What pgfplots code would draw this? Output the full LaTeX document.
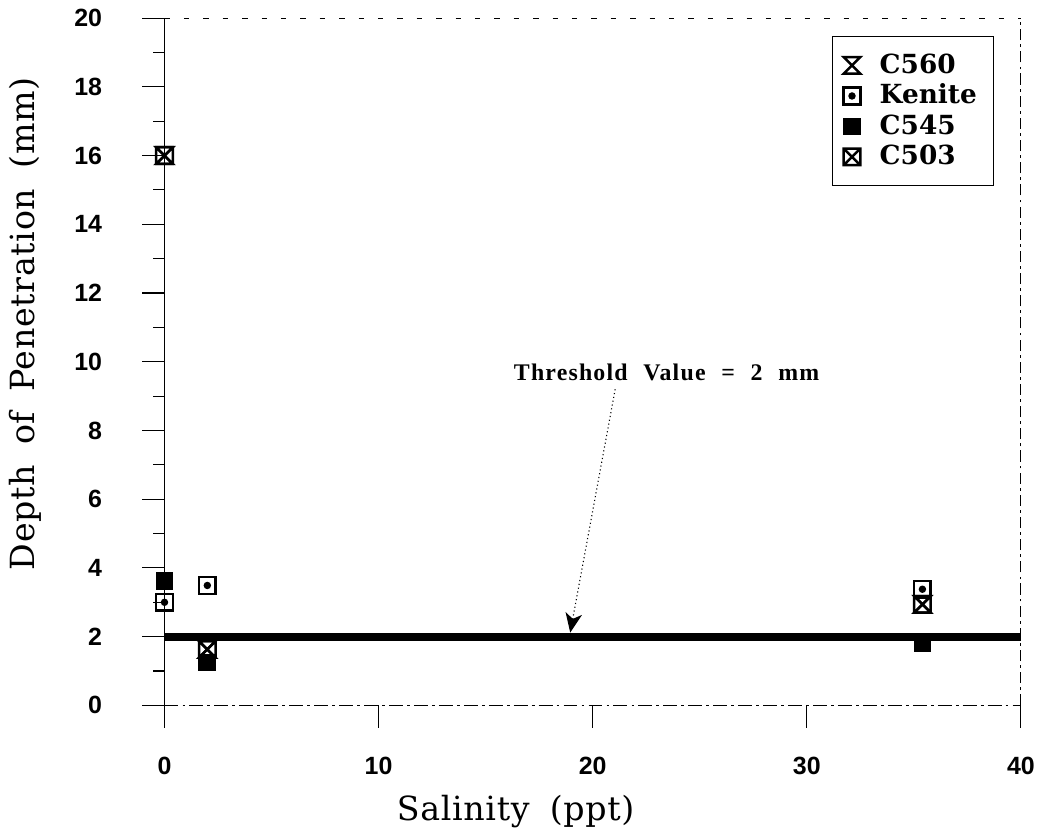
\documentclass[border=0pt]{standalone}
\usepackage{fontspec}
\setmainfont{DejaVu Serif}
\newfontfamily\labfont[LetterSpace=2,WordSpace=1.8]{DejaVu Serif}
\newfontfamily\notefont[LetterSpace=5,WordSpace=2.2]{Liberation Serif}
\newfontfamily\tickfont{Liberation Sans}
\usepackage{pgfplots}
\pgfplotsset{compat=1.18}
\usetikzlibrary{arrows.meta}

% marks used by the four coatings
\pgfdeclareplotmark{hourglass}{%
  \pgfpathmoveto{\pgfqpoint{-\pgfplotmarksize}{\pgfplotmarksize}}%
  \pgfpathlineto{\pgfqpoint{\pgfplotmarksize}{\pgfplotmarksize}}%
  \pgfpathlineto{\pgfqpoint{-\pgfplotmarksize}{-\pgfplotmarksize}}%
  \pgfpathlineto{\pgfqpoint{\pgfplotmarksize}{-\pgfplotmarksize}}%
  \pgfpathclose
  \pgfusepathqstroke}
\pgfdeclareplotmark{boxx}{%
  \pgfpathrectangle{\pgfqpoint{-\pgfplotmarksize}{-\pgfplotmarksize}}{\pgfqpoint{2\pgfplotmarksize}{2\pgfplotmarksize}}%
  \pgfpathmoveto{\pgfqpoint{-\pgfplotmarksize}{-\pgfplotmarksize}}%
  \pgfpathlineto{\pgfqpoint{\pgfplotmarksize}{\pgfplotmarksize}}%
  \pgfpathmoveto{\pgfqpoint{-\pgfplotmarksize}{\pgfplotmarksize}}%
  \pgfpathlineto{\pgfqpoint{\pgfplotmarksize}{-\pgfplotmarksize}}%
  \pgfusepathqstroke}
\pgfdeclareplotmark{boxdot}{%
  \pgfpathrectangle{\pgfqpoint{-\pgfplotmarksize}{-\pgfplotmarksize}}{\pgfqpoint{2\pgfplotmarksize}{2\pgfplotmarksize}}%
  \pgfusepathqstroke
  \pgfpathcircle{\pgfpointorigin}{0.45\pgfplotmarksize}%
  \pgfusepathqfill}

\begin{document}
\begin{tikzpicture}
\begin{axis}[
    scale only axis,
    width=309pt, height=248pt,
    xmin=0, xmax=40, ymin=0, ymax=20,
    axis x line*=bottom, axis y line*=left,
    x axis line style={thin, dash pattern=on 5pt off 1.5pt on 1pt off 1.5pt},
    y axis line style={thin},
    xtick={0,10,20,30,40},
    ytick={0,2,...,20},
    minor ytick={1,3,...,19},
    tick align=outside,
    major tick length=8pt, minor tick length=4pt,
    tick style={thin, black},
    /pgf/number format/assume math mode=true,
    ticklabel style={font=\tickfont\bfseries\fontsize{9}{10}\selectfont},
    xticklabel shift=7pt,
    yticklabel shift=11pt,
    xlabel={Salinity (ppt)},
    ylabel={Depth of Penetration (mm)},
    label style={font=\labfont\fontsize{12}{14}\selectfont},
    xlabel style={at={(ticklabel cs:0.41)}, anchor=north, yshift=-0.5pt},
    ylabel style={at={(ticklabel cs:0.555)}, anchor=south, yshift=5pt},
    legend style={at={(rel axis cs:1,1)}, anchor=north east, xshift=-9.7pt, yshift=-6.5pt,
      draw=black, thin, font=\bfseries\fontsize{9.5}{10}\selectfont,
      nodes={inner ysep=0.6pt},
      row sep=1.2pt, inner xsep=4pt, inner ysep=5.5pt,
      /tikz/every odd column/.append style={column sep=5pt}},
    legend cell align=left,
    clip=false,
]
% threshold line
\addplot[black, line width=2.8pt, forget plot] coordinates {(0,2) (40,2)};

\addplot[only marks, mark=hourglass, mark size=3pt, mark options={line width=0.9pt, black}]
  coordinates {(0,16) (2,1.63) (35.4,2.94)};
\addlegendentry{C560}
\addplot[only marks, mark=boxdot, mark size=3pt, mark options={line width=0.9pt, black}]
  coordinates {(0,3.0) (2,3.49) (35.4,3.38)};
\addlegendentry{Kenite}
\addplot[only marks, mark=square*, mark size=3pt, mark options={black, fill=black}]
  coordinates {(0,3.63) (2,1.25) (35.4,1.8)};
\addlegendentry{C545}
\addplot[only marks, mark=boxx, mark size=3pt, mark options={line width=0.9pt, black}]
  coordinates {(0,16) (2,1.63) (35.4,2.94)};
\addlegendentry{C503}

% remaining frame
\draw[thin, dash pattern=on 2pt off 5pt] (rel axis cs:0,1) -- (rel axis cs:1,1);
\draw[thin, dash pattern=on 4pt off 1.5pt on 1pt off 1.5pt] (rel axis cs:1,0) -- (rel axis cs:1,1);

% annotation
\node[font=\notefont\bfseries\fontsize{8.6}{10}\selectfont] at (axis cs:23.45,9.68) {Threshold Value = 2 mm};
\draw[thin, densely dotted, -{Stealth[length=7pt,width=6pt,inset=2pt]}] (axis cs:21.05,9.2) -- (axis cs:18.95,2.12);
\end{axis}
\end{tikzpicture}
\end{document}
